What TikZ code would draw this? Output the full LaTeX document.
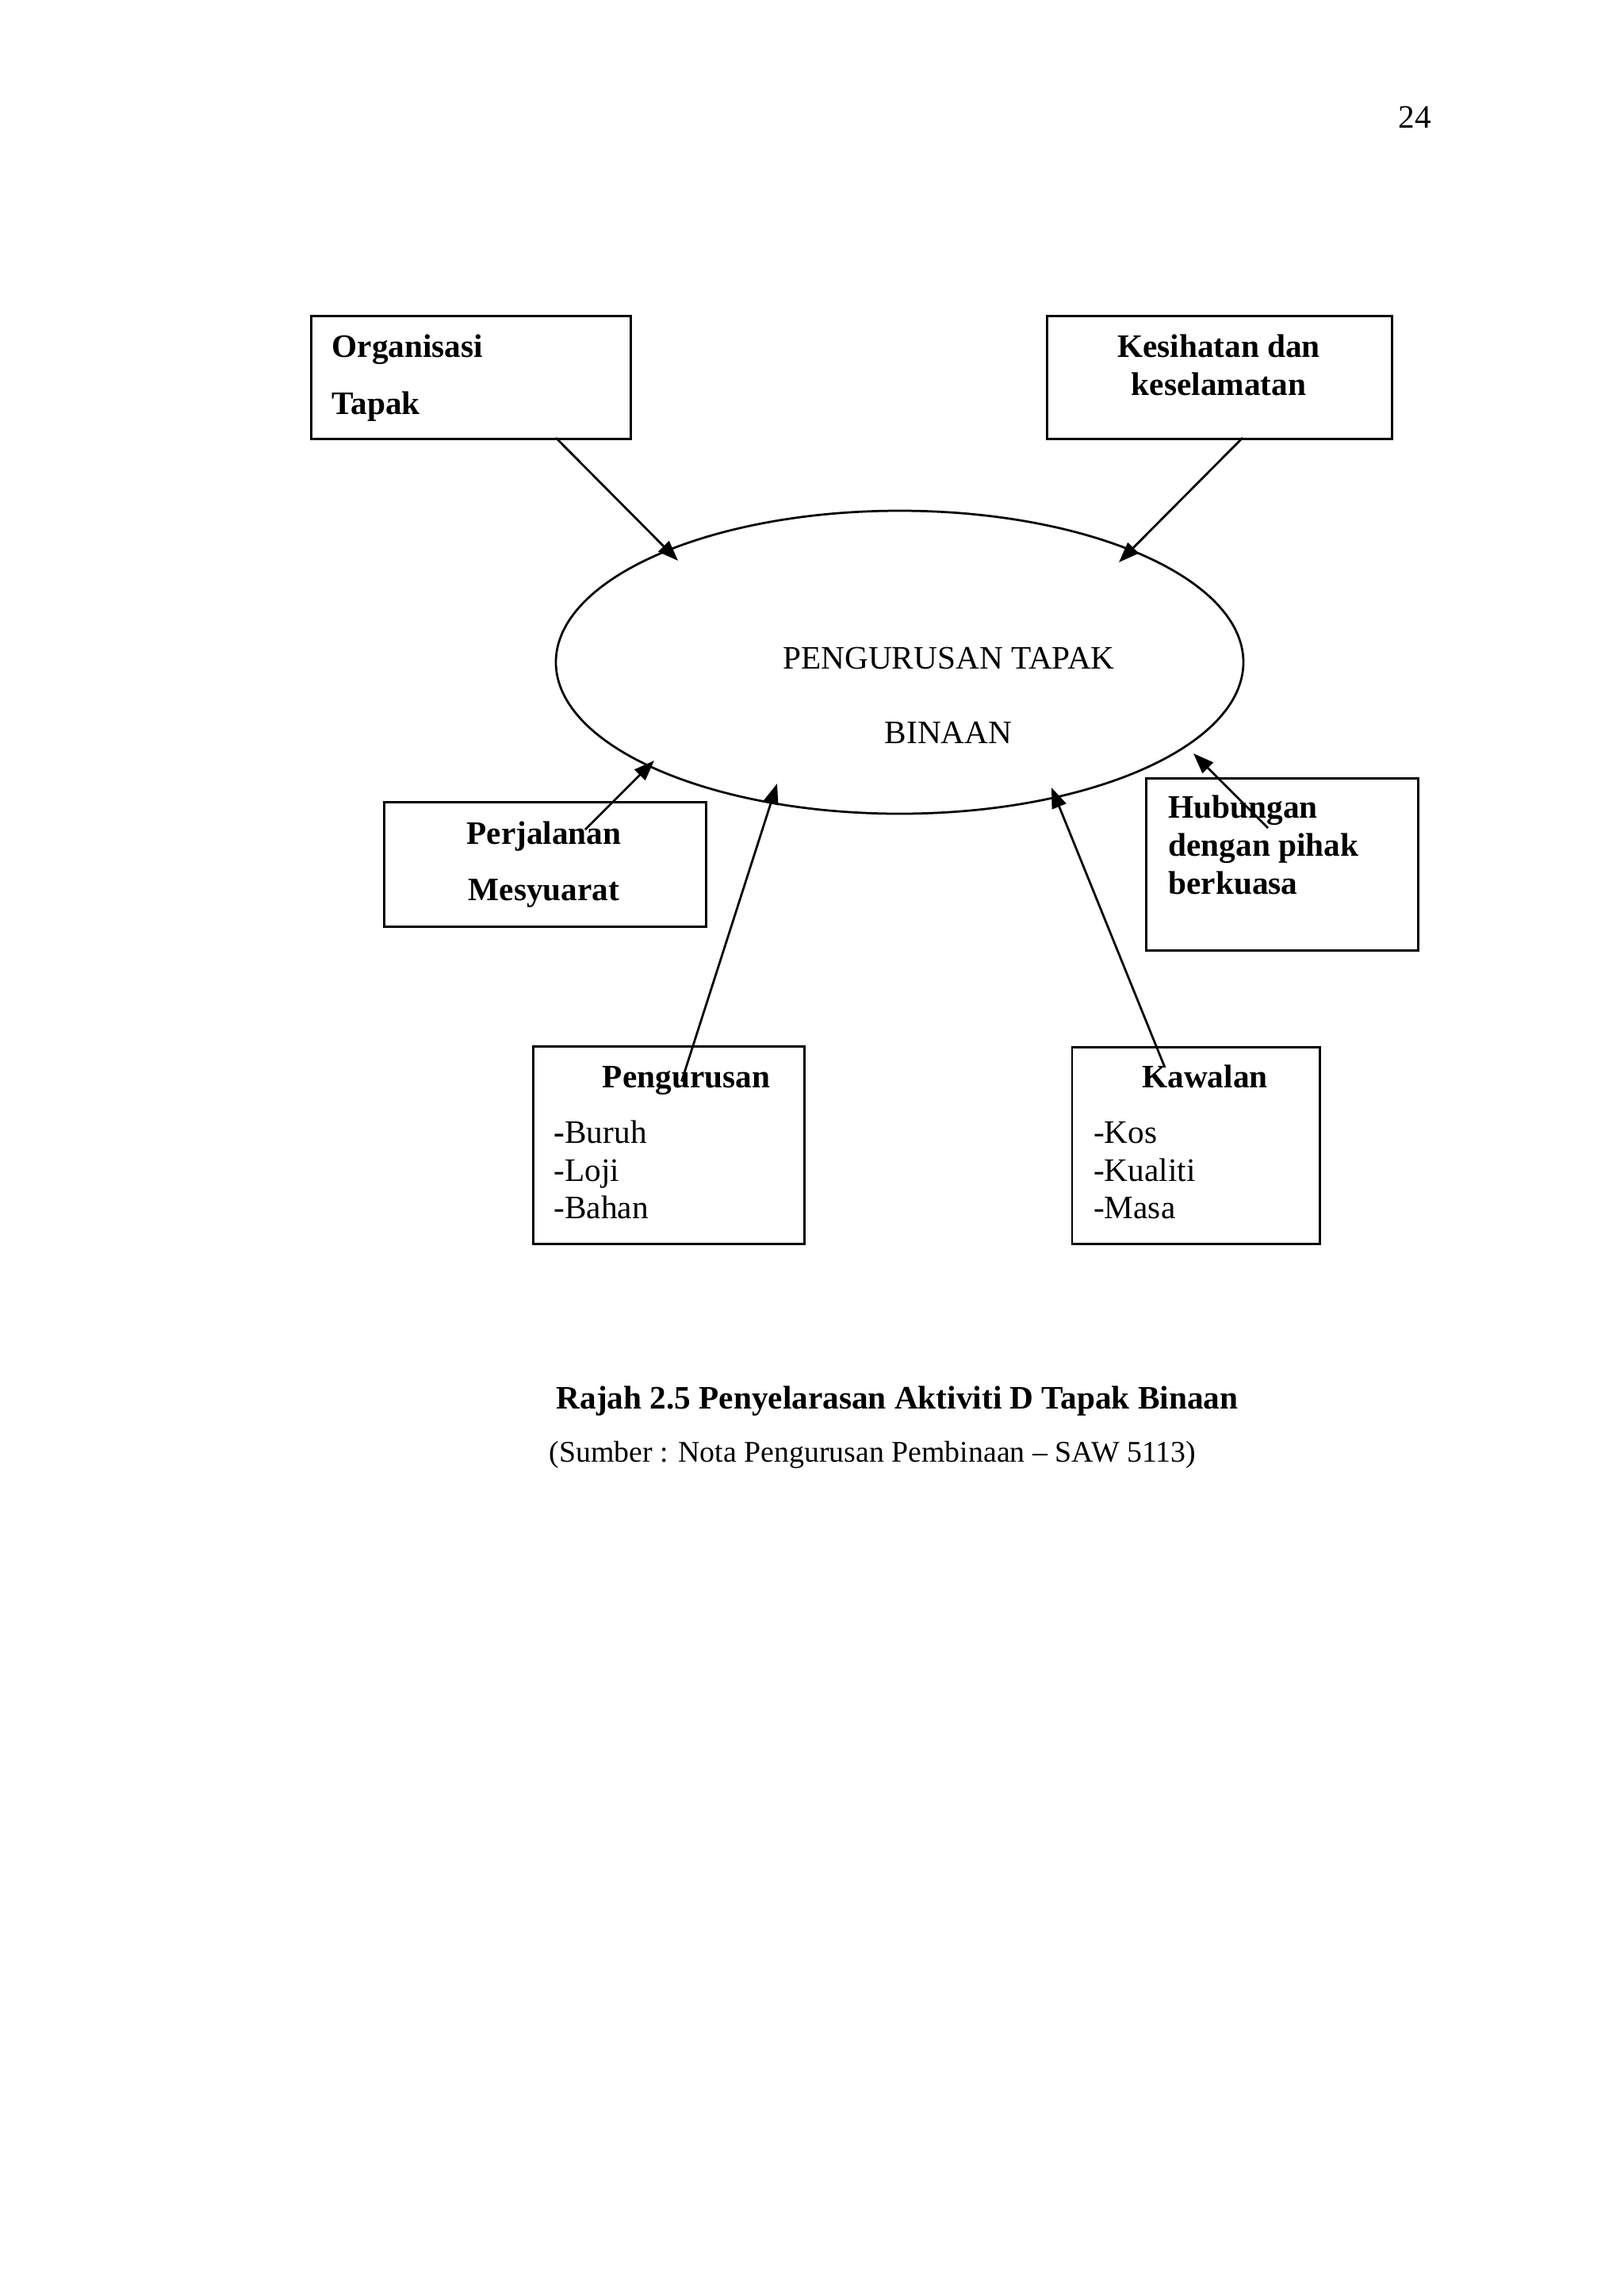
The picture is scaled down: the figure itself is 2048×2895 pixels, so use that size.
\documentclass[tikz,border=0pt]{standalone}
\usepackage{fontspec}
\setmainfont{Liberation Serif}
\usetikzlibrary{arrows.meta, shapes.geometric}
\newcommand{\pu}{0.2907pt}
\tikzset{
  every node/.style={inner sep=0pt, font=\fontsize{12pt}{14pt}\selectfont},
  box/.style={draw, line width=0.8pt, anchor=north west},
  hd/.style={anchor=base, font=\fontsize{12pt}{14pt}\selectfont\bfseries},
  hdl/.style={anchor=base west, font=\fontsize{12pt}{14pt}\selectfont\bfseries},
  item/.style={anchor=base west},
  arr/.style={-{Triangle[length=7.5pt, width=5.5pt]}, line width=0.8pt},
}
\begin{document}
\begin{tikzpicture}[x=\pu, y=-\pu]
    \useasboundingbox (0,0) rectangle (2048,2895);
    % Page number
    \node[anchor=base] (pagenum) at (1784.5,161) {24};
    % Centre ellipse
    \node[draw, ellipse, line width=0.8pt, minimum width=867*\pu, minimum height=382*\pu] (pengurusan) at (1134.5,835) {};
    \node[anchor=base] (centretop) at (1196.5,843) {PENGURUSAN TAPAK};
    \node[anchor=base] (centrebot) at (1196,937) {BINAAN};
    % Boxes
    \node[box, minimum width=403*\pu, minimum height=155*\pu] (org) at (391,397) {};
    \node[hdl] (orga) at (418,450) {Organisasi};
    \node[hdl] (orgb) at (418,522) {Tapak};
    \node[box, minimum width=435*\pu, minimum height=155*\pu] (kes) at (1319,397) {};
    \node[hd] (kesa) at (1537,450) {Kesihatan dan};
    \node[hd] (kesb) at (1537,498) {keselamatan};
    \node[box, minimum width=406*\pu, minimum height=157*\pu] (perj) at (483,1010) {};
    \node[hd] (perja) at (686,1064) {Perjalanan};
    \node[hd] (perjb) at (686,1135) {Mesyuarat};
    \node[box, minimum width=343*\pu, minimum height=217*\pu] (hub) at (1444,980) {};
    \node[hdl] (huba) at (1473,1031) {Hubungan};
    \node[hdl] (hubb) at (1473,1079) {dengan pihak};
    \node[hdl] (hubc) at (1473,1127) {berkuasa};
    % Pengurusan list
    \node[box, minimum width=342*\pu, minimum height=249*\pu] (peng) at (671,1318) {};
    \node[hd] (penga) at (865.5,1371) {Pengurusan};
    \node[item] (pengb) at (698,1441) {\textbf{-}Buruh};
    \node[item] (pengc) at (698,1489) {-Loji};
    \node[item] (pengd) at (698,1536) {-Bahan};
    % Kawalan list
    \node[box, minimum width=312.5*\pu, minimum height=248*\pu] (kaw) at (1350.5,1319) {};
    \node[hd] (kawa) at (1519.5,1371) {Kawalan};
    \node[item] (kawb) at (1378.5,1441) {-Kos};
    \node[item] (kawc) at (1378.5,1489) {-Kualiti};
    \node[item] (kawd) at (1378.5,1536) {-Masa};
    % Arrow ends
    \coordinate (orgtail) at (701,552);
    \coordinate (orgtip) at (855,707);
    \coordinate (kestail) at (1567,552);
    \coordinate (kestip) at (1411,709);
    \coordinate (perjtail) at (738,1046);
    \coordinate (perjtip) at (825,959);
    \coordinate (pengtail) at (859.5,1363.5);
    \coordinate (pengtip) at (980,988);
    \coordinate (kawtail) at (1469,1346);
    \coordinate (kawtip) at (1326,993);
    \coordinate (hubtail) at (1599,1044);
    \coordinate (hubtip) at (1505,950);
    % Arrows
    \draw[arr] (orgtail) -- (orgtip);
    \draw[arr] (kestail) -- (kestip);
    \draw[arr] (perjtail) -- (perjtip);
    \draw[arr] (pengtail) -- (pengtip);
    \draw[arr] (kawtail) -- (kawtip);
    \draw[arr] (hubtail) -- (hubtip);
    % Caption
    \node[hd] (caption) at (1131.5,1776) {Rajah 2.5 Penyelarasan Aktiviti D Tapak Binaan};
    \node[item, font=\fontsize{11pt}{13pt}\selectfont] (source) at (692,1843) {(Sumber : Nota Pengurusan Pembinaan -- SAW 5113)};
\end{tikzpicture}
\end{document}
